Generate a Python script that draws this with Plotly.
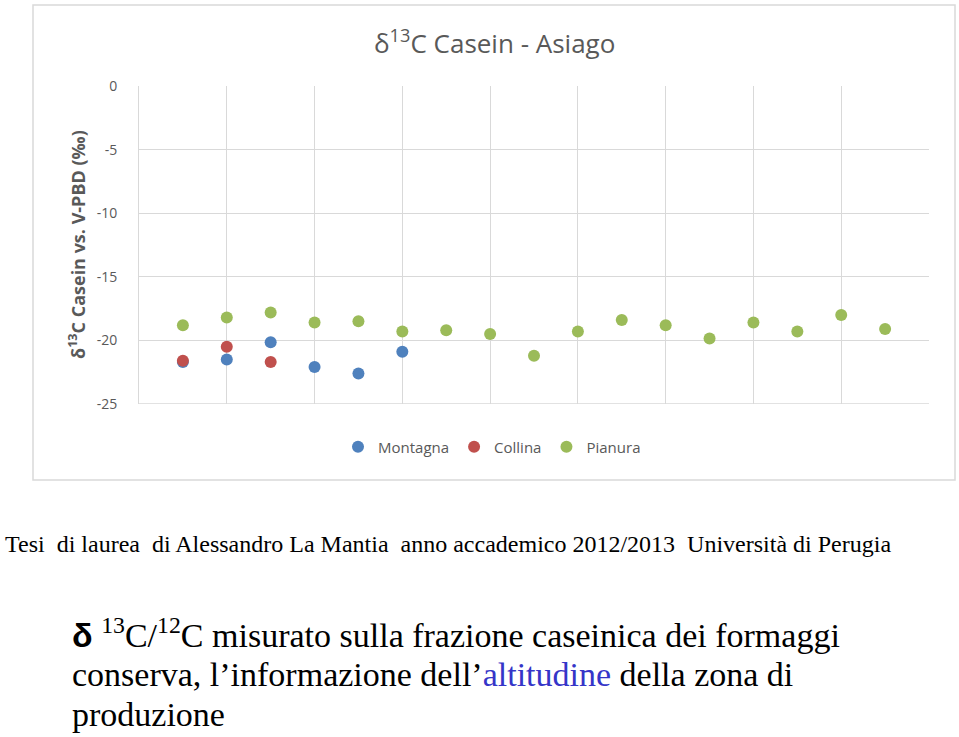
import plotly.graph_objects as go

# Data (x = sample index, y = δ13C ‰)
montagna_x = [1, 2, 3, 4, 5, 6]
montagna_y = [-21.7, -21.5, -20.15, -22.1, -22.6, -20.9]
collina_x = [1, 2, 3]
collina_y = [-21.6, -20.5, -21.7]
pianura_x = list(range(1, 18))
pianura_y = [-18.8, -18.2, -17.8, -18.6, -18.5, -19.3, -19.2, -19.5, -21.2,
             -19.3, -18.4, -18.8, -19.85, -18.6, -19.3, -18.0, -19.1]
y_ticks = [0, -5, -10, -15, -20, -25]
y_tick_text = ["0", "-5", "-10", "-15", "-20", "-25"]

W, H = 959, 737
GRAY = "#595959"
FONT = "Open Sans"

fig = go.Figure()
fig.add_trace(go.Scatter(x=montagna_x, y=montagna_y, mode="markers", name="Montagna",
                         marker=dict(color="#4F81BD", size=12)))
fig.add_trace(go.Scatter(x=collina_x, y=collina_y, mode="markers", name="Collina",
                         marker=dict(color="#C0504D", size=12)))
fig.add_trace(go.Scatter(x=pianura_x, y=pianura_y, mode="markers", name="Pianura",
                         marker=dict(color="#9BBB59", size=12)))

def px(x):
    return x / W

def py(y):
    return 1 - y / H

fig.update_layout(
    width=W, height=H,
    margin=dict(l=0, r=0, t=0, b=0, autoexpand=False),
    paper_bgcolor="white", plot_bgcolor="white",
    showlegend=True,
    legend=dict(orientation="h", x=px(492), xanchor="center", y=py(447), yanchor="middle",
                font=dict(family=FONT, size=15, color=GRAY), itemsizing="trace",
                traceorder="normal", itemwidth=30, tracegroupgap=0),
    xaxis=dict(domain=[px(139), px(929)], range=[0, 18], dtick=2, tick0=0,
               showticklabels=False, showgrid=True, gridcolor="#D9D9D9", gridwidth=1,
               zeroline=False, showline=False, fixedrange=True),
    yaxis=dict(domain=[py(404), py(86)], range=[-25, 0], tickvals=y_ticks, ticktext=y_tick_text,
               tickfont=dict(family=FONT, size=14, color=GRAY),
               showgrid=True, gridcolor="#D9D9D9", gridwidth=1, zeroline=False,
               showline=True, linecolor="#D9D9D9", ticklabelstandoff=18, fixedrange=True),
    shapes=[dict(type="rect", xref="paper", yref="paper",
                 x0=px(33), x1=px(955), y0=py(480), y1=py(5),
                 line=dict(color="#D9D9D9", width=1.5), fillcolor="rgba(0,0,0,0)", layer="below"),
            dict(type="line", xref="x", yref="y", x0=0, x1=18, y0=-25, y1=-25,
                 line=dict(color="#D9D9D9", width=1.5))],
)

ann = []
ann.append(dict(text="δ<sup>13</sup>C Casein - Asiago", x=px(494), y=py(42), xref="paper", yref="paper",
                showarrow=False, xanchor="center", yanchor="middle",
                font=dict(family=FONT, size=26, color=GRAY)))
ann.append(dict(text="<b>δ<sup>13</sup>C Casein vs. V-PBD (‰)</b>", x=px(77), y=py(245), xref="paper", yref="paper",
                showarrow=False, xanchor="center", yanchor="middle", textangle=-90,
                font=dict(family=FONT, size=18, color=GRAY)))
ann.append(dict(text="Tesi  di laurea  di Alessandro La Mantia  anno accademico 2012/2013  Università di Perugia",
                x=px(3), y=py(544), xref="paper", yref="paper", showarrow=False,
                xanchor="left", yanchor="middle",
                font=dict(family="Liberation Serif", size=24, color="black")))
BIG = 34
lines = [
    "<span style='font-family:Liberation Sans'><b>δ</b></span> <sup>13</sup>C/<sup>12</sup>C misurato sulla frazione caseinica dei formaggi",
    "conserva, l’informazione dell’<span style='color:#3535C8'>altitudine</span> della zona di",
    "produzione",
]
ys = [633, 674, 714]
for t, yy in zip(lines, ys):
    ann.append(dict(text=t, x=px(70), y=py(yy), xref="paper", yref="paper", showarrow=False,
                    xanchor="left", yanchor="middle",
                    font=dict(family="Liberation Serif", size=BIG, color="black")))
fig.update_layout(annotations=ann)

fig.write_html("out.html", config={"displayModeBar": False},
               post_script="document.body.style.margin='0px';document.body.style.overflow='hidden';")
